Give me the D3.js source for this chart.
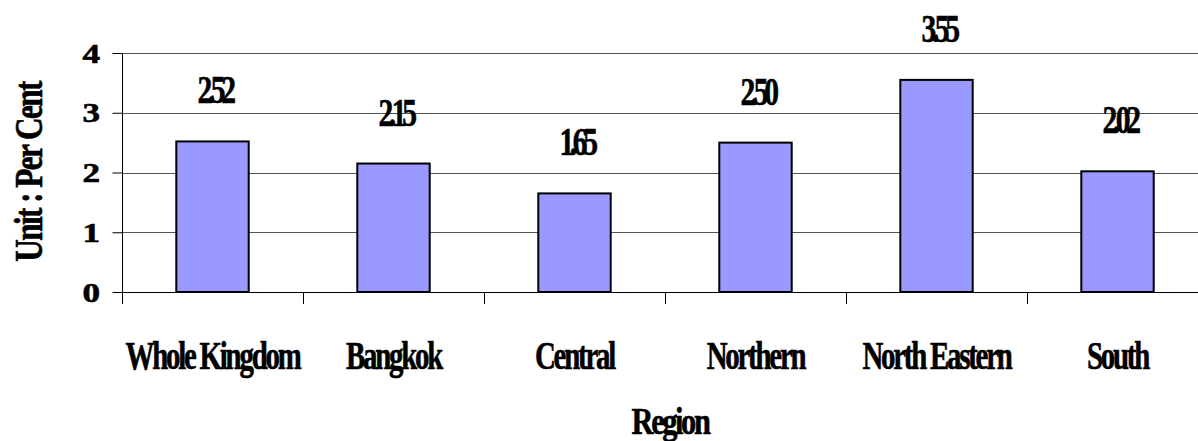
<!DOCTYPE html>
<html><head><meta charset="utf-8">
<script src="https://cdn.jsdelivr.net/npm/d3@7"></script>
<style>
body{margin:0;background:#fff;}
</style></head>
<body><svg id="c" width="1198" height="441"></svg>
<script>
const categories = ["Whole Kingdom","Bangkok","Central","Northern","North Eastern","South"];
const values = [2.52, 2.15, 1.65, 2.50, 3.55, 2.02];
const yTicks = [0,1,2,3,4];
const xTitle = "Region";
const yTitle = "Unit : Per Cent";

const FONT = "'Liberation Serif', 'Times New Roman', Times, serif";
const svg = d3.select("#c");
const pLeft = 122, pRight = 1208, pTop = 53, pBottom = 292;
const x = d3.scaleBand().domain(categories).range([pLeft, pRight]).paddingInner(0.6).paddingOuter(0.3);
const xb = d3.scaleBand().domain(categories).range([pLeft, pRight]);
const y = d3.scaleLinear().domain([0,4]).range([pBottom, pTop]);

function styleText(sel, size) {
  return sel.style("font-family", FONT).style("font-weight", "700").style("font-size", size + "px")
    .style("fill", "#000").style("stroke", "#000").style("stroke-width", "0.6px");
}

// gridlines
svg.append("g").selectAll("line").data(yTicks.filter(d=>d>0)).join("line")
  .attr("x1", pLeft).attr("x2", pRight)
  .attr("y1", d=>Math.round(y(d))+0.5).attr("y2", d=>Math.round(y(d))+0.5)
  .attr("stroke", "#555").attr("stroke-width", 1);

// bars
svg.append("g").selectAll("rect").data(values).join("rect")
  .attr("x", (d,i)=>x(categories[i]))
  .attr("y", d=>y(d))
  .attr("width", x.bandwidth())
  .attr("height", d=>pBottom - y(d))
  .attr("fill", "#9999ff").attr("stroke", "#000").attr("stroke-width", 2);

// y axis
const ya = svg.append("g").attr("transform", `translate(${pLeft+0.5},0)`)
  .call(d3.axisLeft(y).tickValues(yTicks).tickSize(10).tickPadding(10).tickFormat(d3.format("d")));
ya.select(".domain").attr("d", `M0,${pTop}V${pBottom+11}`).attr("stroke","#000");
ya.selectAll(".tick line").attr("stroke","#000");
styleText(ya.selectAll("text"), 27)
  .attr("x", null).attr("dy", null).attr("y", 9)
  .attr("transform", "translate(-22.5,0) scale(1.3,1)");

// x axis
const xa = svg.append("g").attr("transform", `translate(0,${pBottom+0.5})`)
  .call(d3.axisBottom(xb).tickSize(0).tickFormat(""));
xa.select(".domain").attr("d", `M${pLeft},0H${pRight}`).attr("stroke","#000");
svg.append("g").selectAll("line").data(categories.concat(["_end"])).join("line")
  .attr("x1",(d,i)=>Math.round(pLeft + i*xb.bandwidth())+0.5)
  .attr("x2",(d,i)=>Math.round(pLeft + i*xb.bandwidth())+0.5)
  .attr("y1", pBottom).attr("y2", pBottom+12).attr("stroke","#000");

// category labels
styleText(svg.append("g").selectAll("text").data(categories).join("text"), 39)
  .attr("transform", d=>`translate(${xb(d)+xb.bandwidth()/2},369) scale(0.74,1)`)
  .attr("text-anchor","middle").style("letter-spacing","-3px")
  .text(d=>d);

// value labels
styleText(svg.append("g").selectAll("text").data(values).join("text"), 40)
  .attr("transform", (d,i)=>`translate(${xb(categories[i])+xb.bandwidth()/2+2},${y(d)-38}) scale(0.74,1)`)
  .attr("text-anchor","middle").style("letter-spacing","-6px")
  .text(d=>d.toFixed(2));

// titles
styleText(svg.append("text"), 38).attr("transform","translate(670,434) scale(0.8,1)").attr("text-anchor","middle")
  .style("letter-spacing","-3px").text(xTitle);
styleText(svg.append("text"), 40).attr("transform","translate(42,172) rotate(-90) scale(0.78,1)").attr("text-anchor","middle")
  .style("letter-spacing","-2px").text(yTitle);
</script></body></html>
